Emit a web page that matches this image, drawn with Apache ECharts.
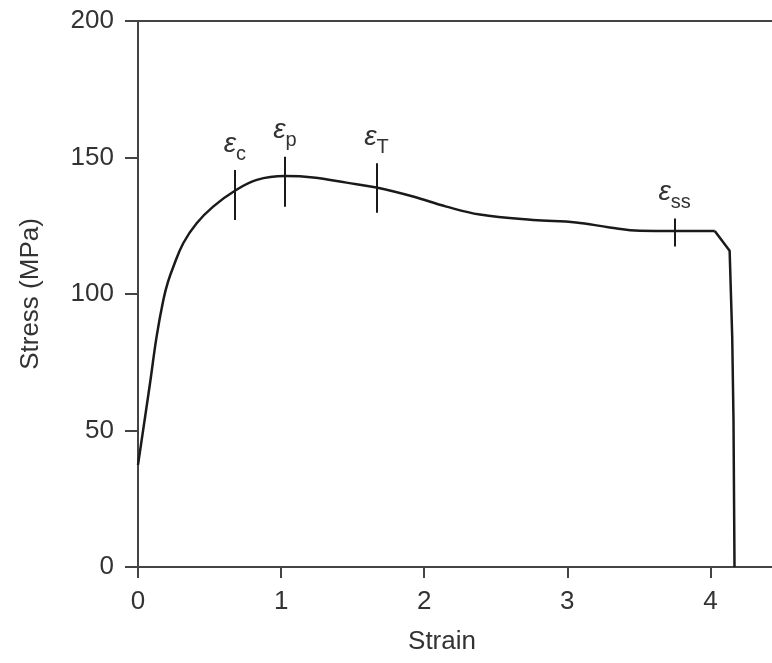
<!DOCTYPE html>
<html>
<head>
<meta charset="utf-8">
<script src="https://cdn.jsdelivr.net/npm/echarts@6/dist/echarts.min.js"></script>
<style>html,body{margin:0;padding:0;background:#fff}#c{width:772px;height:663px}</style>
</head>
<body>
<div id="c"></div>
<script>
const strain = [0, 0.084, 0.13, 0.177, 0.21, 0.247, 0.316, 0.41, 0.525, 0.677, 0.83, 1.027, 1.224, 1.457, 1.666, 1.922, 2.155, 2.388, 2.76, 3.06, 3.296, 3.506, 3.75, 4.03];
const stress = [37.4, 67.3, 84.4, 97.8, 104.5, 110, 118.6, 125.9, 132, 137.8, 141.8, 143.2, 142.7, 140.8, 139, 135.7, 132, 129.1, 127.1, 126.2, 124.4, 123.2, 123.1, 123.1];

// fracture segment (sharp corners)
const fractureStrain = [4.03, 4.134, 4.152, 4.161, 4.168];
const fractureStress = [123.1, 115.8, 84.4, 53.8, 0];

const markerSub = ['c', 'p', 'T', 'ss'];
const markerStrain = [0.677, 1.027, 1.666, 3.75];
const markerLow = [127.1, 132, 129.8, 117.4];
const markerHigh = [145.4, 150.3, 147.9, 127.7];

const xTicks = [0, 1, 2, 3, 4];
const yTicks = [0, 50, 100, 150, 200];

const axisColor = '#444';
const textColor = '#333';
const lineColor = '#1a1a1a';
const font = 'Liberation Sans, Arial, sans-serif';

const chart = echarts.init(document.getElementById('c'));
chart.setOption({
  animation: false,
  grid: { left: 138, right: 0, top: 21, bottom: 96 },
  xAxis: [{
    type: 'value', min: 0, max: 4.43,
    name: 'Strain', nameLocation: 'middle', nameGap: 62,
    nameTextStyle: { fontSize: 26, color: textColor, fontFamily: font, padding: [0, 26, 0, 0] },
    axisLine: { show: true, lineStyle: { color: axisColor, width: 2 } },
    axisTick: { show: true, length: 11, customValues: xTicks, lineStyle: { color: axisColor, width: 2 } },
    axisLabel: { customValues: xTicks, margin: 22, fontSize: 26, color: textColor, fontFamily: font },
    splitLine: { show: false }
  }, {
    type: 'value', min: 0, max: 4.43, position: 'top',
    axisLine: { show: true, onZero: false, lineStyle: { color: axisColor, width: 2 } },
    axisTick: { show: false }, axisLabel: { show: false }, splitLine: { show: false }
  }],
  yAxis: {
    type: 'value', min: 0, max: 200, interval: 50,
    name: 'Stress (MPa)', nameLocation: 'middle', nameGap: 94, nameRotate: 90,
    nameTextStyle: { fontSize: 26, color: textColor, fontFamily: font },
    axisLine: { show: true, lineStyle: { color: axisColor, width: 2 } },
    axisTick: { show: true, length: 13, customValues: yTicks, lineStyle: { color: axisColor, width: 2 } },
    axisLabel: { customValues: yTicks, margin: 24, fontSize: 26, color: textColor, fontFamily: font },
    splitLine: { show: false }
  },
  series: [{
    type: 'line',
    data: strain.map((s, i) => [s, stress[i]]),
    showSymbol: false,
    smooth: 0.4,
    lineStyle: { color: lineColor, width: 2.5 },
    markLine: {
      silent: true,
      symbol: ['none', 'none'],
      lineStyle: { color: lineColor, width: 2, type: 'solid' },
      label: {
        show: true, position: 'end', distance: 6,
        formatter: p => '{e|ε}{s|' + p.name + '}',
        rich: {
          e: { fontSize: 28, fontStyle: 'italic', color: textColor, fontFamily: font, verticalAlign: 'bottom', padding: [0, 0, 6, 0] },
          s: { fontSize: 20, color: textColor, fontFamily: font, verticalAlign: 'bottom' }
        }
      },
      data: markerSub.map((n, i) => [
        { name: n, coord: [markerStrain[i], markerLow[i]] },
        { coord: [markerStrain[i], markerHigh[i]] }
      ])
    }
  }, {
    type: 'line',
    data: fractureStrain.map((s, i) => [s, fractureStress[i]]),
    showSymbol: false,
    smooth: false,
    lineStyle: { color: lineColor, width: 2.5 }
  }]
});
</script>
</body>
</html>
